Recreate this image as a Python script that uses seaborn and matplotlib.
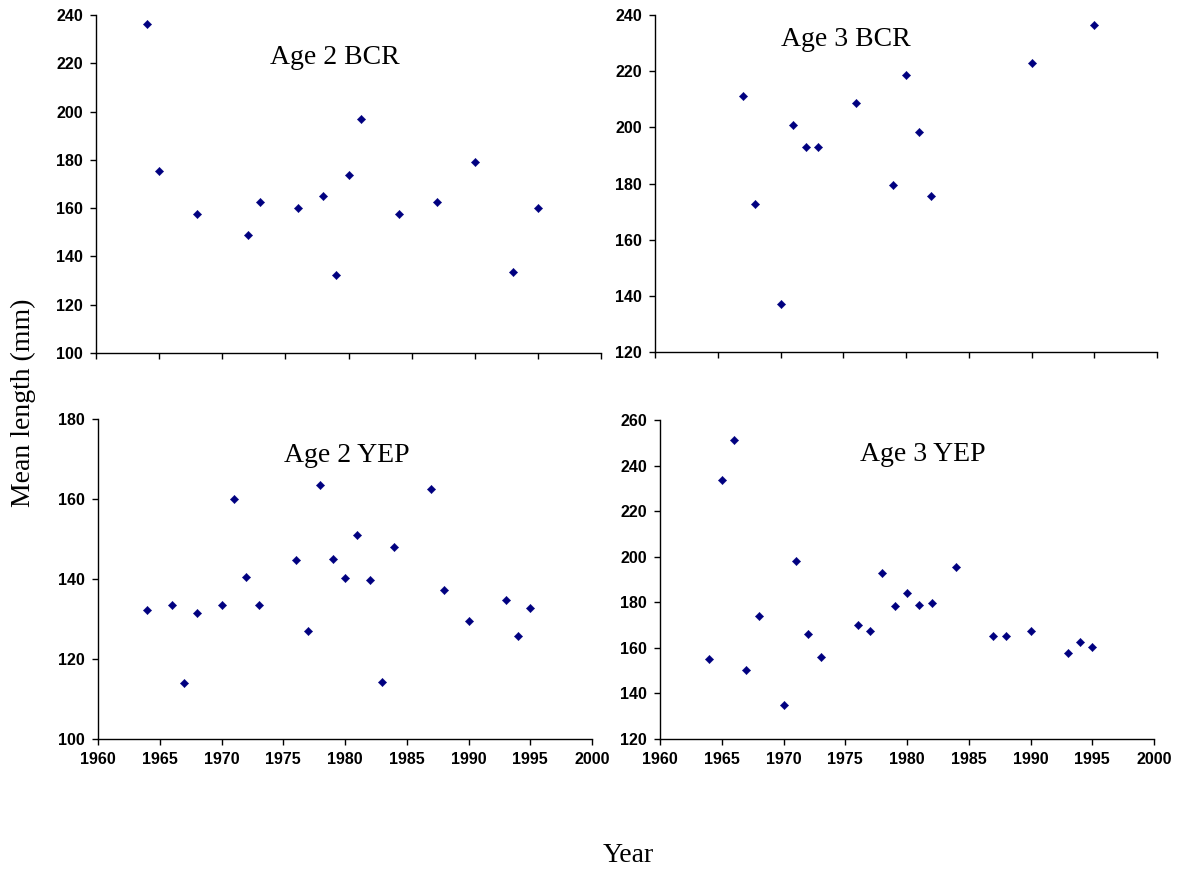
import matplotlib
matplotlib.use("Agg")
import matplotlib.pyplot as plt
import seaborn as sns
import pandas as pd

# ---- data ----
years_a2_bcr = [1964, 1965, 1968, 1972, 1973, 1976, 1978, 1979, 1980, 1981, 1984, 1987, 1990, 1993, 1995]
len_a2_bcr = [236.4, 175.4, 157.7, 148.8, 162.7, 160.2, 165.2, 132.2, 173.7, 197.0, 157.6, 162.7, 179.2, 133.5, 160.1]

years_a3_bcr = [1967, 1968, 1970, 1971, 1972, 1973, 1976, 1979, 1980, 1981, 1982, 1990, 1995]
len_a3_bcr = [211.0, 172.7, 137.2, 200.8, 193.1, 193.1, 208.5, 179.6, 218.7, 198.3, 175.4, 222.8, 236.3]

years_a2_yep = [1964, 1966, 1967, 1968, 1970, 1971, 1972, 1973, 1976, 1977, 1978, 1979, 1980,
                1981, 1982, 1983, 1984, 1987, 1988, 1990, 1993, 1994, 1995]
len_a2_yep = [132.2, 133.4, 113.9, 131.6, 133.4, 160.0, 140.5, 133.4, 144.8, 127.0, 163.5, 145.1, 140.3,
              151.0, 139.8, 114.3, 148.1, 162.4, 137.2, 129.5, 134.7, 125.7, 132.7]

years_a3_yep = [1964, 1965, 1966, 1967, 1968, 1970, 1971, 1972, 1973, 1976, 1977, 1978, 1979, 1980,
                1981, 1982, 1984, 1987, 1988, 1990, 1993, 1994, 1995]
len_a3_yep = [155.1, 233.5, 251.4, 150.5, 173.9, 134.8, 198.2, 166.2, 156.2, 170.0, 167.6, 192.9, 178.2, 184.0,
              178.8, 179.6, 195.7, 165.2, 165.2, 167.6, 157.7, 162.5, 160.2]

titles = ["Age 2 BCR", "Age 3 BCR", "Age 2 YEP", "Age 3 YEP"]
ylims = [(100, 240), (120, 240), (100, 180), (120, 260)]
x_ticks = [1960, 1965, 1970, 1975, 1980, 1985, 1990, 1995, 2000]
x_label = "Year"
y_label = "Mean length (mm)"

series = [(years_a2_bcr, len_a2_bcr), (years_a3_bcr, len_a3_bcr),
          (years_a2_yep, len_a2_yep), (years_a3_yep, len_a3_yep)]

# ---- style ----
sns.set_theme(style="white")
plt.rcParams['font.family'] = ['Liberation Sans', 'DejaVu Sans']
plt.rcParams['text.color'] = 'black'
plt.rcParams['xtick.color'] = 'black'
plt.rcParams['ytick.color'] = 'black'
plt.rcParams['axes.labelcolor'] = 'black'

fig = plt.figure(figsize=(11.84, 8.69), dpi=100)
W, H = 1184, 869
# pixel boxes: left, top, right, bottom
boxes = [(96, 15, 601, 353), (655, 15, 1157, 352), (98, 419, 592, 739), (660, 420, 1154, 739)]
title_pos = [(335, 57), (846, 40), (347, 455), (923, 454)]

navy = "#000080"
for i, ((xs, ys), (l, t, r, b)) in enumerate(zip(series, boxes)):
    ax = fig.add_axes([l / W, 1 - b / H, (r - l) / W, (b - t) / H])
    df = pd.DataFrame({"Year": xs, "Length": ys})
    sns.scatterplot(data=df, x="Year", y="Length", ax=ax, marker="D", s=18,
                    color=navy, edgecolor=navy, linewidth=0.3, clip_on=False)
    ax.set_xlim(1960, 2000)
    ax.set_ylim(*ylims[i])
    ax.set_xticks(x_ticks)
    lo, hi = ylims[i]
    ax.set_yticks(list(range(lo, hi + 1, 20)))
    for s in ["top", "right"]:
        ax.spines[s].set_visible(False)
    for s in ["left", "bottom"]:
        ax.spines[s].set_color("black")
        ax.spines[s].set_linewidth(1.0)
    ax.tick_params(axis="both", direction="out", length=4.3, width=1.0, color="black",
                   labelcolor="black", labelsize=11.5, pad=5)
    ax.tick_params(axis="both", which="both", left=True, bottom=True)
    for lab in ax.get_yticklabels() + ax.get_xticklabels():
        lab.set_fontweight("bold")
    if i < 2:
        ax.set_xticklabels([])
    ax.set_xlabel("")
    ax.set_ylabel("")
    ax.set_facecolor("white")
    tx, ty = title_pos[i]
    fig.text(tx / W, 1 - ty / H, titles[i], ha="center", va="center", color="black",
             fontsize=20, family=["Liberation Serif", "DejaVu Serif"])

fig.text(23 / W, 1 - 403 / H, y_label, rotation=90, ha="center", va="center", color="black",
         fontsize=20, family=["Liberation Serif", "DejaVu Serif"])
fig.text(628 / W, 1 - 855 / H, x_label, ha="center", va="center", color="black",
         fontsize=20, family=["Liberation Serif", "DejaVu Serif"])

fig.savefig("out.png", dpi=100, facecolor="white")
